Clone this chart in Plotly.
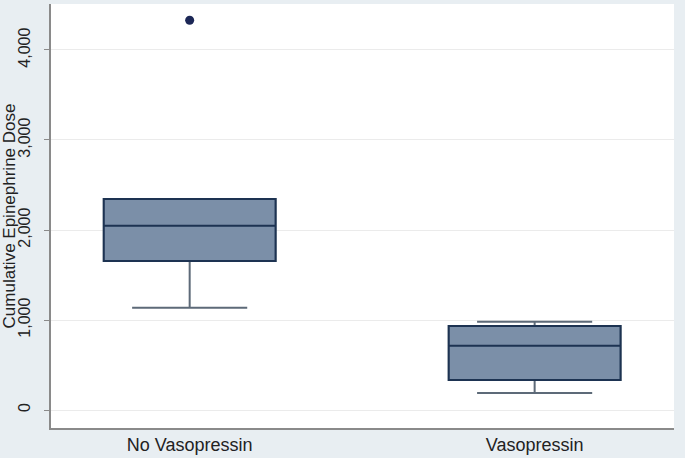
import plotly.graph_objects as go

groups = ["No Vasopressin", "Vasopressin"]
q1 = [1655, 333]
median = [2048, 714]
q3 = [2344, 933]
lower_whisker = [1137, 189]
upper_whisker = [2344, 981]
outlier_group = ["No Vasopressin"]
outlier_value = [4330]
y_ticks = [0, 1000, 2000, 3000, 4000]
y_ticklabels = ["0", "1,000", "2,000", "3,000", "4,000"]

FILL = "#7b8fa8"
DARK = "#1d3352"
WHISK = "#5d6a78"

fig = go.Figure()
# whiskers layer (gray)
fig.add_trace(go.Box(
    x=groups, q1=q1, median=median, q3=q3,
    lowerfence=lower_whisker, upperfence=upper_whisker,
    fillcolor=FILL, line=dict(color=WHISK, width=2),
    whiskerwidth=0.67, width=0.498, boxpoints=False, hoverinfo="skip",
))
# box layer (dark outline)
fig.add_trace(go.Box(
    x=groups, q1=q1, median=median, q3=q3,
    lowerfence=q1, upperfence=q3,
    fillcolor=FILL, line=dict(color=DARK, width=2),
    whiskerwidth=0.67, width=0.498, boxpoints=False,
))
fig.add_trace(go.Scatter(
    x=outlier_group, y=outlier_value, mode="markers",
    marker=dict(color="#1c2756", size=9),
))

fig.update_layout(
    width=685, height=458,
    margin=dict(l=51, r=11, t=4, b=30, autoexpand=False),
    paper_bgcolor="#e8eef2", plot_bgcolor="white",
    showlegend=False, boxmode="overlay",
    font=dict(family="Liberation Sans, Arial, sans-serif", size=16, color="#222222"),
)
fig.update_xaxes(
    type="category", range=[-0.402, 1.404], automargin=False,
    showgrid=False, showline=True, linecolor="#8a8a8a", linewidth=1.5,
    ticks="", tickfont=dict(size=18), mirror=False,
)
fig.update_yaxes(
    range=[-200, 4511], tickvals=y_ticks, ticktext=y_ticklabels, automargin=False,
    tickangle=-90, ticks="outside", ticklen=5, tickcolor="#8a8a8a",
    ticklabelstandoff=8,
    showgrid=True, gridcolor="#ebebeb", gridwidth=1, zeroline=False,
    showline=True, linecolor="#8a8a8a", linewidth=1.5,
    title=dict(text="Cumulative Epinephrine Dose", font=dict(size=17), standoff=0),
    tickfont=dict(size=16),
)
fig.write_html("out.html", config={"displayModeBar": False},
               post_script="document.body.style.margin='0';")
